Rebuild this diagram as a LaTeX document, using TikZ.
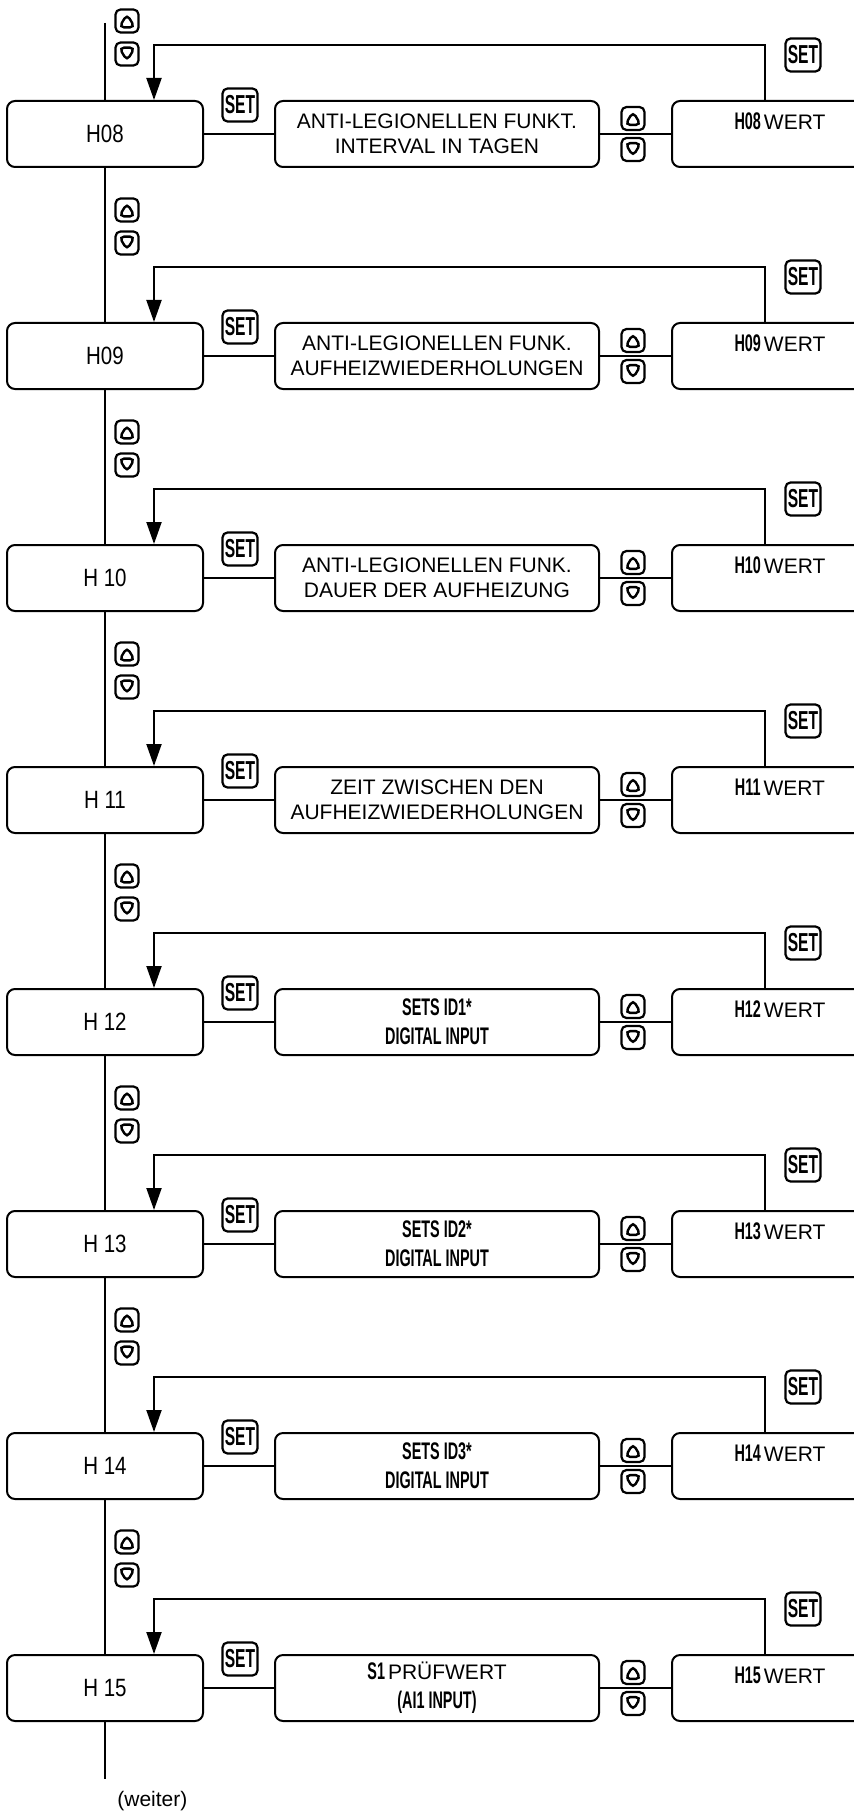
\documentclass[tikz,border=0pt]{standalone}
\usepackage{fontspec}
\setmainfont{Liberation Sans}
\newfontfamily\narrowfont[FakeStretch=0.82]{Liberation Sans}
\newfontfamily\condfont[FakeStretch=0.6]{Liberation Sans}
\usetikzlibrary{arrows.meta,positioning}
\newcommand\cnd[1]{{\condfont\bfseries\fontsize{12}{14.5}\selectfont #1}}

\begin{document}
\begin{tikzpicture}[x=0.5pt, y=-0.5pt,
  disp/.style={rectangle, draw, fill=white, line width=1pt, rounded corners=4pt, minimum width=98pt, minimum height=33pt, inner sep=0pt, align=center, font=\fontsize{10.5}{12.5}\selectfont},
  key/.style={rectangle, draw, fill=white, line width=1.1pt, rounded corners=2.5pt, minimum width=11.5pt, minimum height=11.5pt, inner sep=0pt},
  upkey/.style={key, path picture={\draw[line width=1.2pt, line join=miter] ([yshift=3.4pt]path picture bounding box.center) -- ++(-3.9pt,-6.6pt) -- ++(7.8pt,0pt) -- cycle;}},
  downkey/.style={key, path picture={\draw[line width=1.2pt, line join=miter] ([yshift=-3.4pt]path picture bounding box.center) -- ++(-3.9pt,6.6pt) -- ++(7.8pt,0pt) -- cycle;}},
  setkey/.style={key, minimum width=17.5pt, minimum height=16.5pt, font=\condfont\bfseries\fontsize{13}{13}\selectfont},
  conn/.style={line width=1pt},
  arrow/.style={conn, -{Triangle[length=11pt, width=7.5pt]}}]
\useasboundingbox[fill=white] (0,0) rectangle (854,1813);
\clip (0,0) rectangle (854,1813);
\coordinate (top) at (105,23);
\coordinate (end) at (105,1779);
\node[upkey] (u0) at (127,21) {};
\node[downkey] (d0) at (127,54) {};
\foreach \lbl/\txt/\val [count=\k from 0] in {
  {H08}/{ANTI-LEGIONELLEN FUNKT.\\INTERVAL IN TAGEN}/{H08},
  {H09}/{ANTI-LEGIONELLEN FUNK.\\AUFHEIZWIEDERHOLUNGEN}/{H09},
  {H 10}/{ANTI-LEGIONELLEN FUNK.\\DAUER DER AUFHEIZUNG}/{H10},
  {H 11}/{ZEIT ZWISCHEN DEN\\AUFHEIZWIEDERHOLUNGEN}/{H11},
  {H 12}/{\cnd{SETS ID1*}\\[2pt]\cnd{DIGITAL INPUT}}/{H12},
  {H 13}/{\cnd{SETS ID2*}\\[2pt]\cnd{DIGITAL INPUT}}/{H13},
  {H 14}/{\cnd{SETS ID3*}\\[2pt]\cnd{DIGITAL INPUT}}/{H14},
  {H 15}/{\cnd{S1}\hspace{1.5pt}PRÜFWERT\\[2pt]\cnd{(AI1 INPUT)}}/{H15}}{
  \pgfmathsetmacro\dy{222*\k}
  \node[disp, font=\narrowfont\fontsize{12.5}{13}\selectfont] (b1-\k) at (105,{134+\dy}) {\lbl};
  \node[disp, minimum width=162pt, right=35pt of b1-\k] (b2-\k) {\txt};
  \node[disp, minimum width=108pt, right=35.5pt of b2-\k] (b3-\k) {\cnd{\val}\hspace{1.5pt}WERT\\\mbox{}};
  \node[setkey] (s1-\k) at (240,{105+\dy}) {SET};
  \node[upkey] (u2-\k) at (633,{118.5+\dy}) {};
  \node[downkey] (d2-\k) at (633,{149.5+\dy}) {};
  \node[setkey] (s2-\k) at (803,{55+\dy}) {SET};
  \coordinate (fl-\k) at (154,{45+\dy});
  \coordinate (fr-\k) at (765,{45+\dy});
  \draw[conn] (b1-\k) -- (b2-\k);
  \draw[conn] (b2-\k) -- (b3-\k);
  \draw[arrow] (fr-\k |- b3-\k.north) -- (fr-\k) -- (fl-\k) -- (fl-\k |- b1-\k.north);
  \ifnum\k<7
    \node[upkey] (u1-\k) at (127,{210+\dy}) {};
    \node[downkey] (d1-\k) at (127,{243+\dy}) {};
  \fi
}
% main line through the H menu
\draw[conn] (top) -- (b1-0.north);
\foreach \k [evaluate=\k as \n using int(\k+1)] in {0,...,6}
  \draw[conn] (b1-\k.south) -- (b1-\n.north);
\draw[conn] (b1-7.south) -- (end);
\node[anchor=north west, inner sep=0pt, font=\fontsize{10.5}{12.5}\selectfont] (weiter) at (117,1791) {(weiter)};
\end{tikzpicture}
\end{document}
